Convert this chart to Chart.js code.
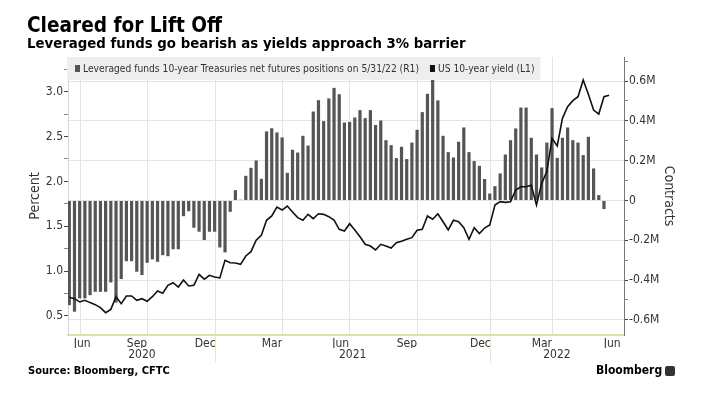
<!DOCTYPE html>
<html>
<head>
<meta charset="utf-8">
<script src="https://cdn.jsdelivr.net/npm/chart.js@4.4.0/dist/chart.umd.min.js"></script>
<style>
  html, body { margin: 0; padding: 0; background: #fff; width: 705px; height: 399px; overflow: hidden; }
  #wrap { position: relative; width: 705px; height: 399px; }
  #chart { position: absolute; left: 0; top: 0; }
  .t { position: absolute; white-space: nowrap; font-family: "DejaVu Sans Condensed", "Liberation Sans Narrow", "DejaVu Sans", sans-serif; color: #000; font-weight: bold; }
  #title { left: 27px; top: 13px; font-size: 20.6px; line-height: 24px; }
  #subtitle { left: 27px; top: 34px; font-size: 14.8px; line-height: 17px; }
  #source { left: 28px; top: 365px; font-size: 11px; line-height: 12px; }
  #brand { left: 596px; top: 363px; font-size: 12px; line-height: 14px; }
  #icon { position: absolute; left: 665px; top: 366px; width: 10px; height: 10px; background: #333; border-radius: 2px; }
</style>
</head>
<body>
<div id="wrap">
  <canvas id="chart" width="705" height="399"></canvas>
  <div class="t" id="title">Cleared for Lift Off</div>
  <div class="t" id="subtitle">Leveraged funds go bearish as yields approach 3% barrier</div>
  <div class="t" id="source">Source: Bloomberg, CFTC</div>
  <div class="t" id="brand">Bloomberg</div>
  <div id="icon"></div>
</div>
<script>
// ---------------- DATA ----------------
const weeks = [
  '2020-06-09','2020-06-16','2020-06-23','2020-06-30','2020-07-07','2020-07-14','2020-07-21','2020-07-28',
  '2020-08-04','2020-08-11','2020-08-18','2020-08-25','2020-09-01','2020-09-08','2020-09-15','2020-09-22',
  '2020-09-29','2020-10-06','2020-10-13','2020-10-20','2020-10-27','2020-11-03','2020-11-10','2020-11-17',
  '2020-11-24','2020-12-01','2020-12-08','2020-12-15','2020-12-22','2020-12-29',
  '2021-01-05','2021-01-12','2021-01-19','2021-01-26','2021-02-02','2021-02-09','2021-02-16','2021-02-23',
  '2021-03-02','2021-03-09','2021-03-16','2021-03-23','2021-03-30','2021-04-06','2021-04-13','2021-04-20',
  '2021-04-27','2021-05-04','2021-05-11','2021-05-18','2021-05-25','2021-06-01','2021-06-08','2021-06-15',
  '2021-06-22','2021-06-29','2021-07-06','2021-07-13','2021-07-20','2021-07-27','2021-08-03','2021-08-10',
  '2021-08-17','2021-08-24','2021-08-31','2021-09-07','2021-09-14','2021-09-21','2021-09-28','2021-10-05',
  '2021-10-12','2021-10-19','2021-10-26','2021-11-02','2021-11-09','2021-11-16','2021-11-23','2021-11-30',
  '2021-12-07','2021-12-14','2021-12-21','2021-12-28',
  '2022-01-04','2022-01-11','2022-01-18','2022-01-25','2022-02-01','2022-02-08','2022-02-15','2022-02-22',
  '2022-03-01','2022-03-08','2022-03-15','2022-03-22','2022-03-29','2022-04-05','2022-04-12','2022-04-19',
  '2022-04-26','2022-05-03','2022-05-10','2022-05-17','2022-05-24','2022-05-31','2022-06-07'
];

// Leveraged funds net futures positions, contracts (one per week, through 5/31/22)
const netPositions = [
  -526000,-559000,-492000,-492000,-476000,-459000,-459000,-459000,-412000,-513000,
  -395000,-305000,-305000,-358000,-375000,-313000,-296000,-308000,-275000,-280000,
  -245000,-245000,-79000,-54000,-137000,-157000,-199000,-157000,-157000,-236000,
  -261000,-57000,52000,4000,124000,164000,201000,109000,347000,363000,
  342000,317000,139000,255000,241000,325000,276000,447000,504000,399000,
  513000,566000,534000,392000,395000,417000,454000,414000,454000,379000,
  402000,303000,278000,213000,270000,208000,291000,355000,444000,536000,
  610000,503000,325000,243000,216000,295000,367000,243000,198000,174000,
  108000,35000,72000,136000,231000,303000,362000,467000,467000,315000,
  231000,166000,291000,464000,214000,315000,367000,303000,291000,228000,
  320000,161000,27000,-43000
];

// US 10-year yield, percent
const yields = [
  0.708,0.693,0.656,0.675,0.649,0.626,0.593,0.537,0.574,0.715,
  0.637,0.723,0.723,0.675,0.693,0.664,0.715,0.779,0.753,0.842,
  0.871,0.823,0.901,0.834,0.842,0.964,0.910,0.953,0.935,0.924,
  1.120,1.094,1.091,1.076,1.169,1.217,1.344,1.400,1.567,1.615,
  1.715,1.681,1.726,1.659,1.596,1.567,1.633,1.585,1.640,1.633,
  1.607,1.570,1.466,1.447,1.529,1.459,1.384,1.299,1.280,1.236,
  1.299,1.280,1.258,1.317,1.332,1.355,1.373,1.455,1.466,1.615,
  1.578,1.640,1.551,1.459,1.567,1.551,1.485,1.355,1.485,1.418,
  1.480,1.515,1.737,1.774,1.767,1.774,1.904,1.941,1.941,1.957,
  1.737,1.979,2.109,2.480,2.395,2.703,2.833,2.900,2.944,3.130,
  2.971,2.796,2.751,2.944,2.960
];

// Axis ticks (x unit: weeks since first observation)
const monthTickLabels = ['Jun','Sep','Dec','Mar','Jun','Sep','Dec','Mar','Jun'];
const monthGridWeeks  = [2.2, 15, 28.2, 41, 53.9, 67, 81.2, 93, 106.2];
const monthLabelWeeks = [4.1, 15, 28.2, 41, 53.9, 67, 81.2, 93, 106.2];
const yearTickLabels  = ['2020','2021','2022'];
const yearLabelWeeks  = [14.0, 54.6, 93.95];
const yearSeparatorWeeks = [28.2, 81.2];
const percentTicks  = [0.5,0.75,1.0,1.25,1.5,1.75,2.0,2.25,2.5,2.75,3.0,3.25];
const contractTicks = [-600000,-500000,-400000,-300000,-200000,-100000,0,100000,200000,300000,400000,500000,600000,700000];

const seriesLabels = [
  'Leveraged funds 10-year Treasuries net futures positions on 5/31/22 (R1)',
  'US 10-year yield (L1)'
];

// --------------- BUILD ---------------
const FONT = '"DejaVu Sans Condensed", "Liberation Sans Narrow", "DejaVu Sans", sans-serif';
const WEEK = 7 * 86400000;
const t0 = Date.parse(weeks[0]);
const weekPos = d => (Date.parse(d) - t0) / WEEK;

const barPoints = netPositions.map((v, i) => ({ x: weekPos(weeks[i]), y: v }));
const linePoints = yields.map((v, i) => ({ x: weekPos(weeks[i]), y: v }));

const isMajorPct = v => Math.abs(v * 2 - Math.round(v * 2)) < 1e-9;
const isMajorCon = v => Math.round(v) % 200000 === 0;
const fmtCon = v => v === 0 ? '0' : (v / 1e6).toFixed(1) + 'M';

const boxLegend = {
  id: 'boxLegend',
  afterDraw(chart) {
    const { ctx, chartArea } = chart;
    const ds = chart.data.datasets;
    ctx.save();
    ctx.font = '10.2px ' + FONT;
    const widths = ds.map(d => ctx.measureText(d.label).width);
    const x0 = chartArea.left - 1, y0 = chartArea.top, h = 23;
    const total = 8 + (8 + widths[0]) + 11 + (8 + widths[1]) + 6;
    ctx.fillStyle = '#eeeeee';
    ctx.fillRect(x0, y0, total, h);
    let x = x0 + 8;
    ds.forEach((d, k) => {
      ctx.fillStyle = d.legendColor;
      ctx.fillRect(x, y0 + 8, 5, 7);
      x += 8;
      ctx.fillStyle = '#333333';
      ctx.textBaseline = 'alphabetic';
      ctx.fillText(d.label, x, y0 + 14.5);
      x += widths[k] + 11;
    });
    ctx.restore();
  }
};

Chart.defaults.font.family = FONT;
Chart.defaults.color = '#333333';

const xCommon = { type: 'linear', axis: 'x', position: 'bottom', min: -0.25, max: 106.86, offset: false };

new Chart(document.getElementById('chart'), {
  type: 'bar',
  data: {
    datasets: [
      {
        type: 'bar',
        label: seriesLabels[0],
        data: barPoints,
        xAxisID: 'x',
        yAxisID: 'y1',
        backgroundColor: '#555555',
        legendColor: '#555555',
        borderWidth: 0,
        barPercentage: 0.62,
        categoryPercentage: 1.0,
        order: 2
      },
      {
        type: 'line',
        label: seriesLabels[1],
        data: linePoints,
        xAxisID: 'x',
        yAxisID: 'y',
        borderColor: '#111111',
        legendColor: '#111111',
        borderWidth: 1.6,
        pointRadius: 0,
        tension: 0,
        fill: false,
        order: 1
      }
    ]
  },
  options: {
    responsive: false,
    animation: false,
    devicePixelRatio: 1,
    layout: { padding: { left: 20, right: 26, top: 57, bottom: 35 } },
    plugins: { legend: { display: false }, tooltip: { enabled: false }, title: { display: false } },
    scales: {
      x: Object.assign({}, xCommon, {
        weight: 0,
        afterBuildTicks: s => { s.ticks = monthGridWeeks.map(v => ({ value: v })); },
        afterFit: s => { s.height = 0; },
        ticks: { display: false },
        grid: {
          offset: false,
          color: c => (c.index < monthGridWeeks.length - 1 ? '#e4e4e4' : 'rgba(0,0,0,0)'),
          lineWidth: 1,
          drawTicks: true,
          tickLength: 28,
          tickColor: c => (c.tick && yearSeparatorWeeks.includes(c.tick.value) ? '#e3ebc4' : 'rgba(0,0,0,0)')
        },
        border: { display: true, color: '#d9e5a6', width: 2 }
      }),
      xm: Object.assign({}, xCommon, {
        weight: 1,
        afterBuildTicks: s => { s.ticks = monthLabelWeeks.map(v => ({ value: v })); },
        afterFit: s => { s.height = 13; },
        ticks: {
          autoSkip: false, maxRotation: 0, align: 'end', padding: 2,
          font: { size: 12 }, color: '#333333',
          callback: (v, i) => monthTickLabels[i]
        },
        grid: { display: false, drawTicks: false, offset: false },
        border: { display: false }
      }),
      xy: Object.assign({}, xCommon, {
        weight: 2,
        afterBuildTicks: s => { s.ticks = yearLabelWeeks.map(v => ({ value: v })); },
        afterFit: s => { s.height = 16; },
        ticks: {
          autoSkip: false, maxRotation: 0, padding: 0,
          font: { size: 12 }, color: '#333333',
          callback: (v, i) => yearTickLabels[i]
        },
        grid: { display: false, drawTicks: false, offset: false },
        border: { display: false }
      }),
      y: {
        type: 'linear', position: 'left',
        min: 0.288, max: 3.387,
        afterBuildTicks: s => { s.ticks = percentTicks.map(v => ({ value: v })); },
        afterFit: s => { s.width = 48; },
        ticks: {
          autoSkip: false, padding: 1,
          font: { size: 12 }, color: '#333333',
          callback: v => (isMajorPct(v) ? v.toFixed(1) : '')
        },
        grid: {
          drawOnChartArea: false, drawTicks: true, tickLength: 4,
          tickColor: c => (c.tick && isMajorPct(c.tick.value) ? '#444444' : '#888888')
        },
        border: { display: true, color: '#d4d4d4', width: 1 },
        title: { display: true, text: 'Percent', font: { size: 14 }, color: '#333333', padding: { top: 7, bottom: 0 } }
      },
      y1: {
        type: 'linear', position: 'right',
        min: -676000, max: 721000,
        afterBuildTicks: s => { s.ticks = contractTicks.map(v => ({ value: v })); },
        afterFit: s => { s.width = 55; },
        ticks: {
          autoSkip: false, padding: 1,
          font: { size: 12 }, color: '#333333',
          callback: v => (isMajorCon(v) ? fmtCon(v) : '')
        },
        grid: {
          drawOnChartArea: true, drawTicks: true, tickLength: 4,
          color: c => (c.tick && isMajorCon(c.tick.value) ? '#e4e4e4' : 'rgba(0,0,0,0)'),
          tickColor: c => (c.tick && isMajorCon(c.tick.value) ? '#444444' : '#888888')
        },
        border: { display: true, color: '#777777', width: 1 },
        title: { display: true, text: 'Contracts', font: { size: 14 }, color: '#333333', padding: { top: 2, bottom: 0 } }
      }
    }
  },
  plugins: [boxLegend]
});
</script>
</body>
</html>
